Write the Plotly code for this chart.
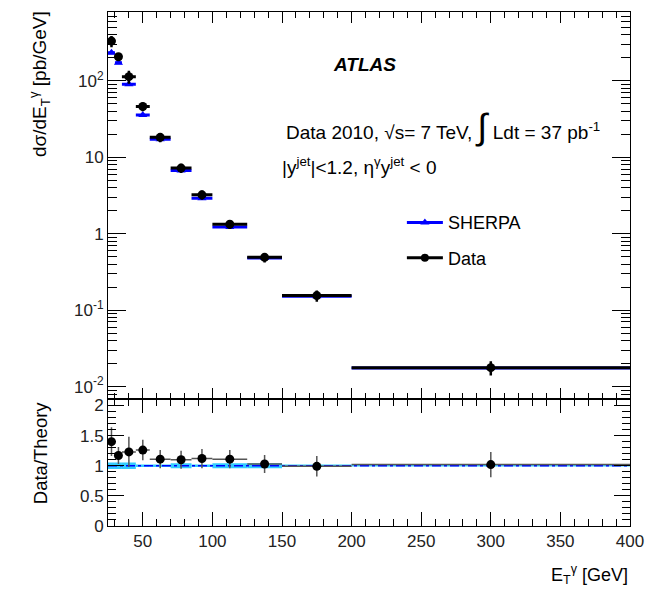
import plotly.graph_objects as go

# E_T^gamma bins [GeV]
bin_lo = [25, 30, 35, 45, 55, 70, 85, 100, 125, 150, 200]
bin_hi = [30, 35, 45, 55, 70, 85, 100, 125, 150, 200, 400]

# Measured cross section dsigma/dE_T [pb/GeV] and total uncertainty
data_xs = [330, 206, 113, 46, 18.2, 7.2, 3.22, 1.33, 0.49, 0.155, 0.0177]
data_err = [55, 25, 22, 6.0, 2.5, 1.0, 0.45, 0.18, 0.07, 0.026, 0.0037]

# SHERPA prediction [pb/GeV]
sherpa_xs = [232, 172, 90, 35.7, 17.2, 6.7, 2.91, 1.22, 0.48, 0.152, 0.0175]

# Data / theory ratio with uncertainties
ratio = [1.40, 1.17, 1.23, 1.26, 1.11, 1.10, 1.12, 1.11, 1.03, 0.99, 1.02]
ratio_err = [0.24, 0.14, 0.25, 0.17, 0.15, 0.15, 0.16, 0.15, 0.15, 0.17, 0.21]
# SHERPA uncertainty band half-width around unity
sherpa_band = [0.055, 0.055, 0.055, 0.02, 0.02, 0.04, 0.02, 0.04, 0.04, 0.012, 0.012]

centers = [(a + b) / 2 for a, b in zip(bin_lo, bin_hi)]
half_w = [(b - a) / 2 for a, b in zip(bin_lo, bin_hi)]
widths = [b - a for a, b in zip(bin_lo, bin_hi)]

FONT = "Liberation Sans, Arial, Helvetica, sans-serif"
BLUE = "#0000ff"
CYAN = "#33ccff"
GREY = "#555555"

fig = go.Figure()

# ---- upper panel: cross sections ----
fig.add_trace(go.Scatter(
    x=centers, y=sherpa_xs, mode="markers", name="SHERPA", showlegend=False,
    marker=dict(symbol="triangle-up", size=8, color=BLUE),
    error_x=dict(type="data", array=half_w, color=BLUE, thickness=3, width=0),
    xaxis="x", yaxis="y"))
fig.add_trace(go.Scatter(
    x=centers, y=data_xs, mode="markers", name="Data", showlegend=False,
    marker=dict(symbol="circle", size=9, color="black"),
    error_x=dict(type="data", array=half_w, color="black", thickness=3, width=0),
    error_y=dict(type="data", array=data_err, color="black", thickness=2.5, width=0),
    xaxis="x", yaxis="y"))

# legend entries (line + marker)
fig.add_trace(go.Scatter(
    x=[None], y=[None], mode="lines+markers", name="SHERPA", legendgroup="a",
    line=dict(color=BLUE, width=3),
    marker=dict(symbol="triangle-up", size=8, color=BLUE),
    xaxis="x", yaxis="y"))
fig.add_trace(go.Scatter(
    x=[None], y=[None], mode="lines+markers", name="Data", legendgroup="b",
    line=dict(color="black", width=3),
    marker=dict(symbol="circle", size=8, color="black"),
    xaxis="x", yaxis="y"))

# ---- lower panel: ratio ----
fig.add_trace(go.Bar(
    x=centers, y=[2 * b for b in sherpa_band], base=[1 - b for b in sherpa_band],
    width=widths, marker=dict(color=CYAN, line=dict(width=0)),
    showlegend=False, hoverinfo="skip", xaxis="x2", yaxis="y2"))
fig.add_trace(go.Scatter(
    x=[bin_lo[0], bin_hi[-1]], y=[1, 1], mode="lines", showlegend=False,
    line=dict(color=BLUE, width=1.5, dash="dashdot"),
    xaxis="x2", yaxis="y2"))
fig.add_trace(go.Scatter(
    x=centers, y=ratio, mode="markers", showlegend=False,
    marker=dict(symbol="circle", size=9, color="black"),
    error_x=dict(type="data", array=half_w, color=GREY, thickness=1.5, width=0),
    error_y=dict(type="data", array=ratio_err, color=GREY, thickness=1.5, width=0),
    xaxis="x2", yaxis="y2"))

axis_common = dict(showgrid=False, zeroline=False, linecolor="black", linewidth=1,
                   mirror="ticks", ticks="inside", tickcolor="black",
                   tickfont=dict(family=FONT, size=17, color="#222"))

y_major = [0.01, 0.1, 1, 10, 100]
y_major_text = ["10<sup>-2</sup>", "10<sup>-1</sup>", "1", "10", "10<sup>2</sup>"]
y_minor = [m * 10 ** e for e in range(-3, 3) for m in range(2, 10)]

fig.update_layout(
    width=656, height=593,
    margin=dict(l=108, r=26, t=10, b=67),
    paper_bgcolor="white", plot_bgcolor="white",
    font=dict(family=FONT, size=17, color="black"),
    barmode="overlay",
    xaxis=dict(axis_common, domain=[0, 1], range=[25, 400], anchor="y",
               tickmode="linear", tick0=0, dtick=50, ticklen=11,
               showticklabels=False,
               minor=dict(ticks="inside", dtick=10, tick0=0, ticklen=6, tickcolor="black")),
    yaxis=dict(axis_common, domain=[0.248, 1], type="log", range=[-2.156, 2.899],
               anchor="x", tickmode="array", tickvals=y_major, ticktext=y_major_text,
               ticklen=18,
               minor=dict(ticks="inside", tickmode="array", tickvals=y_minor,
                          ticklen=9, tickcolor="black")),
    xaxis2=dict(axis_common, domain=[0, 1], range=[25, 400], anchor="y2",
                matches="x", tickmode="linear", tick0=0, dtick=50, ticklen=14,
                minor=dict(ticks="inside", dtick=10, tick0=0, ticklen=7, tickcolor="black")),
    yaxis2=dict(axis_common, domain=[0, 0.248], range=[0, 2.116], anchor="x2",
                tickmode="array", tickvals=[0, 0.5, 1, 1.5, 2],
                ticktext=["0", "0.5", "1", "1.5", "2"], ticklen=16,
                minor=dict(ticks="inside", dtick=0.1, tick0=0, ticklen=8, tickcolor="black")),
    legend=dict(x=0.563, y=0.626, xanchor="left", yanchor="top",
                font=dict(family=FONT, size=18, color="black"),
                bgcolor="rgba(0,0,0,0)", traceorder="grouped", tracegroupgap=9,
                itemwidth=36),
    showlegend=True,
)

annotations = [
    dict(text="<b><i>ATLAS</i></b>", x=0.492, y=0.897, xref="paper", yref="paper",
         xanchor="center", yanchor="middle", showarrow=False,
         font=dict(family=FONT, size=19, color="black")),
    dict(text="Data 2010, √s= 7 TeV, <span style='font-size:36px'>∫</span> Ldt = 37 pb<sup>-1</sup>",
         x=0.337, y=0.777, xref="paper", yref="paper", xanchor="left", yanchor="middle",
         showarrow=False, font=dict(family=FONT, size=19, color="black")),
    dict(text="|y<sup>jet</sup>|&lt;1.2, η<sup>γ</sup>y<sup>jet</sup> &lt; 0",
         x=0.330, y=0.700, xref="paper", yref="paper", xanchor="left", yanchor="middle",
         showarrow=False, font=dict(family=FONT, size=19, color="black")),
    dict(text="dσ/dE<sub>T</sub><sup>γ</sup> [pb/GeV]", textangle=-90,
         x=-0.130, y=1.006, xref="paper", yref="paper", xanchor="center", yanchor="top",
         showarrow=False, font=dict(family=FONT, size=19, color="black")),
    dict(text="Data/Theory", textangle=-90,
         x=-0.130, y=0.246, xref="paper", yref="paper", xanchor="center", yanchor="top",
         showarrow=False, font=dict(family=FONT, size=18.5, color="black")),
    dict(text="E<sub>T</sub><sup>γ</sup> [GeV]",
         x=1.0, y=-0.095, xref="paper", yref="paper", xanchor="right", yanchor="middle",
         showarrow=False, font=dict(family=FONT, size=18, color="black")),
]
fig.update_layout(annotations=annotations)

fig.write_html("out.html")
